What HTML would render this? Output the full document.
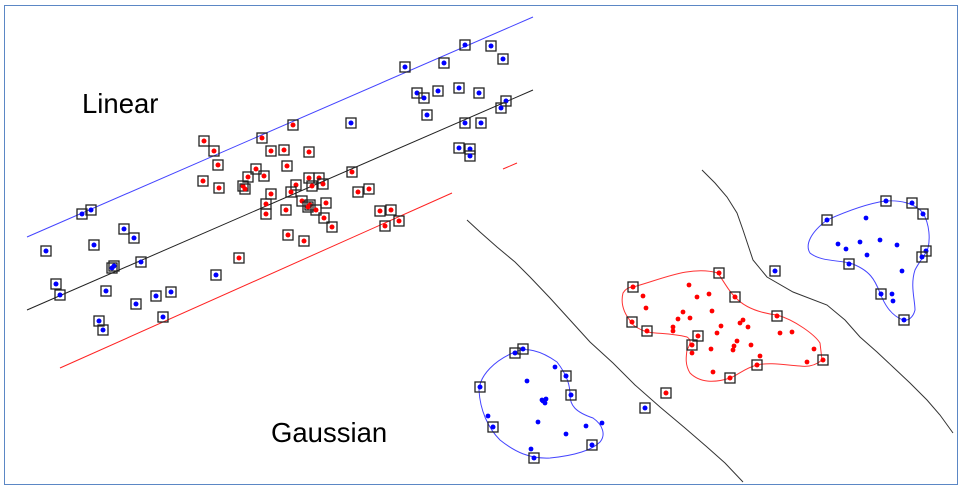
<!DOCTYPE html>
<html><head><meta charset="utf-8"><style>
html,body{margin:0;padding:0;background:#fff;width:962px;height:490px;overflow:hidden}
svg{display:block}
text{font-family:"Liberation Sans",sans-serif}
</style></head><body>
<svg width="962" height="490" viewBox="0 0 962 490" xmlns="http://www.w3.org/2000/svg">
<defs>
<g id="rb"><rect x="-5" y="-5" width="10" height="10" fill="none" stroke="#222" stroke-width="1.3"/><circle r="2.5" fill="#f00"/></g>
<g id="bb"><rect x="-5" y="-5" width="10" height="10" fill="none" stroke="#222" stroke-width="1.3"/><circle r="2.5" fill="#00f"/></g>
<circle id="rd" r="2.4" fill="#f00"/>
<circle id="bd" r="2.4" fill="#00f"/>
</defs>
<rect x="4.5" y="5.5" width="953" height="479" fill="#fff" stroke="#5b87c5" stroke-width="1"/>
<text x="82" y="113" font-size="27.5">Linear</text>
<text x="271" y="442" font-size="27.5">Gaussian</text>
<g fill="none" stroke-width="1">
<polyline points="27,237 533,17" stroke="#44f"/>
<polyline points="27,310 533,90" stroke="#222"/>
<polyline points="60,368 452,193" stroke="#f22"/>
<polyline points="503,169 517,163" stroke="#f22"/>
<polyline stroke="#333" points="467,220 480,232 497,247 515,262 530,277 550,298 570,320 590,342 613,363 635,385 660,407 685,428 707,447 725,463 743,482"/>
<polyline stroke="#333" points="702,170 715,183 727,197 737,213 743,230 748,245 753,260 767,277 793,292 827,305 845,320 860,337 877,352 893,367 910,383 927,400 940,415 953,433"/>
<path stroke="#f33" d="M633,287 C660,280 690,265 718,273 C727,287 730,292 735,297 C745,308 760,313 777,315 C795,320 815,335 820,343 L822,360 C815,366 807,367 800,366 C785,365 770,362 757,365 C745,368 738,375 730,378 C715,383 700,383 690,373 C685,365 686,357 687,350 C690,345 692,340 687,337 C670,333 660,334 647,332 C640,330 632,325 632,323 C625,315 620,305 623,293 C626,288 630,287 633,287Z"/>
<path stroke="#44f" d="M515,352 C525,347 540,350 557,362 C567,375 570,385 570,395 C570,405 575,412 593,418 C603,425 606,435 600,442 C590,452 570,456 550,458 C530,459 515,452 500,440 C488,428 480,410 479,390 C480,375 495,360 515,352Z"/>
<path stroke="#44f" d="M827,220 C845,212 865,204 885,201 C900,200 915,203 923,213 C930,225 930,240 928,248 C925,256 920,260 915,270 C910,285 915,300 915,310 C913,318 908,321 903,320 C890,315 884,303 880,293 C875,280 870,270 850,263 C835,260 820,261 810,253 C805,245 810,233 827,220Z"/>
</g>
<g>
<use href="#rb" x="204" y="141"/><use href="#rb" x="214" y="151"/><use href="#rb" x="218" y="165"/><use href="#rb" x="203" y="181"/><use href="#rb" x="219" y="188"/><use href="#rb" x="262" y="138"/><use href="#rb" x="293" y="125"/><use href="#rb" x="271" y="151"/><use href="#rb" x="284" y="150"/><use href="#rb" x="309" y="152"/><use href="#rb" x="287" y="166"/><use href="#rb" x="256" y="169"/><use href="#rb" x="248" y="177"/><use href="#rb" x="243" y="186"/><use href="#rb" x="264" y="176"/><use href="#rb" x="245" y="189"/><use href="#rb" x="271" y="194"/><use href="#rb" x="296" y="185"/><use href="#rb" x="291" y="192"/><use href="#rb" x="309" y="178"/><use href="#rb" x="319" y="178"/><use href="#rb" x="312" y="186"/><use href="#rb" x="323" y="184"/><use href="#rb" x="352" y="172"/><use href="#rb" x="358" y="192"/><use href="#rb" x="369" y="189"/><use href="#rb" x="266" y="204"/><use href="#rb" x="266" y="214"/><use href="#rb" x="286" y="210"/><use href="#rb" x="302" y="201"/><use href="#rb" x="308" y="207"/><use href="#rb" x="310" y="205"/><use href="#rb" x="326" y="203"/><use href="#rb" x="324" y="218"/><use href="#rb" x="332" y="227"/><use href="#rb" x="316" y="210"/><use href="#rb" x="380" y="211"/><use href="#rb" x="391" y="210"/><use href="#rb" x="385" y="226"/><use href="#rb" x="399" y="221"/><use href="#rb" x="288" y="235"/><use href="#rb" x="304" y="241"/><use href="#rb" x="239" y="258"/>
<use href="#bb" x="405" y="67"/><use href="#bb" x="465" y="45"/><use href="#bb" x="491" y="46"/><use href="#bb" x="503" y="59"/><use href="#bb" x="444" y="63"/><use href="#bb" x="417" y="93"/><use href="#bb" x="424" y="98"/><use href="#bb" x="438" y="91"/><use href="#bb" x="459" y="88"/><use href="#bb" x="479" y="93"/><use href="#bb" x="506" y="101"/><use href="#bb" x="501" y="108"/><use href="#bb" x="427" y="115"/><use href="#bb" x="465" y="123"/><use href="#bb" x="351" y="123"/><use href="#bb" x="481" y="123"/><use href="#bb" x="459" y="148"/><use href="#bb" x="470" y="149"/><use href="#bb" x="470" y="156"/><use href="#bb" x="82" y="214"/><use href="#bb" x="91" y="210"/><use href="#bb" x="46" y="251"/><use href="#bb" x="124" y="229"/><use href="#bb" x="134" y="238"/><use href="#bb" x="94" y="245"/><use href="#bb" x="141" y="262"/><use href="#bb" x="112" y="268"/><use href="#bb" x="114" y="266"/><use href="#bb" x="60" y="295"/><use href="#bb" x="56" y="284"/><use href="#bb" x="106" y="291"/><use href="#bb" x="216" y="275"/><use href="#bb" x="136" y="304"/><use href="#bb" x="156" y="296"/><use href="#bb" x="171" y="292"/><use href="#bb" x="163" y="317"/><use href="#bb" x="99" y="321"/><use href="#bb" x="103" y="330"/>
<use href="#rb" x="633" y="287"/><use href="#rb" x="719" y="273"/><use href="#rb" x="735" y="297"/><use href="#rb" x="777" y="316"/><use href="#rb" x="823" y="360"/><use href="#rb" x="757" y="365"/><use href="#rb" x="730" y="378"/><use href="#rb" x="698" y="336"/><use href="#rb" x="692" y="345"/><use href="#rb" x="647" y="331"/><use href="#rb" x="632" y="322"/><use href="#rb" x="666" y="393"/>
<use href="#rd" x="689" y="285"/><use href="#rd" x="643" y="296"/><use href="#rd" x="697" y="297"/><use href="#rd" x="709" y="294"/><use href="#rd" x="646" y="308"/><use href="#rd" x="683" y="312"/><use href="#rd" x="712" y="311"/><use href="#rd" x="678" y="319"/><use href="#rd" x="690" y="318"/><use href="#rd" x="673" y="327"/><use href="#rd" x="673" y="331"/><use href="#rd" x="721" y="326"/><use href="#rd" x="740" y="323"/><use href="#rd" x="743" y="320"/><use href="#rd" x="748" y="327"/><use href="#rd" x="717" y="333"/><use href="#rd" x="780" y="333"/><use href="#rd" x="792" y="332"/><use href="#rd" x="737" y="341"/><use href="#rd" x="751" y="345"/><use href="#rd" x="734" y="346"/><use href="#rd" x="733" y="350"/><use href="#rd" x="711" y="349"/><use href="#rd" x="692" y="353"/><use href="#rd" x="760" y="356"/><use href="#rd" x="814" y="349"/><use href="#rd" x="807" y="362"/><use href="#rd" x="713" y="372"/>
<use href="#bb" x="515" y="353"/><use href="#bb" x="523" y="349"/><use href="#bb" x="566" y="376"/><use href="#bb" x="571" y="395"/><use href="#bb" x="480" y="387"/><use href="#bb" x="493" y="427"/><use href="#bb" x="534" y="458"/><use href="#bb" x="592" y="445"/><use href="#bb" x="645" y="408"/>
<use href="#bd" x="555" y="367"/><use href="#bd" x="527" y="381"/><use href="#bd" x="542" y="400"/><use href="#bd" x="546" y="399"/><use href="#bd" x="545" y="403"/><use href="#bd" x="543" y="401"/><use href="#bd" x="488" y="416"/><use href="#bd" x="538" y="422"/><use href="#bd" x="586" y="426"/><use href="#bd" x="602" y="423"/><use href="#bd" x="566" y="434"/><use href="#bd" x="531" y="449"/>
<use href="#bb" x="827" y="220"/><use href="#bb" x="886" y="201"/><use href="#bb" x="912" y="203"/><use href="#bb" x="923" y="214"/><use href="#bb" x="926" y="251"/><use href="#bb" x="922" y="257"/><use href="#bb" x="849" y="264"/><use href="#bb" x="881" y="294"/><use href="#bb" x="904" y="320"/><use href="#bb" x="775" y="271"/>
<use href="#bd" x="866" y="218"/><use href="#bd" x="838" y="244"/><use href="#bd" x="846" y="249"/><use href="#bd" x="860" y="242"/><use href="#bd" x="880" y="240"/><use href="#bd" x="897" y="245"/><use href="#bd" x="867" y="255"/><use href="#bd" x="902" y="271"/><use href="#bd" x="892" y="294"/><use href="#bd" x="893" y="301"/>
</g>
</svg>
</body></html>
